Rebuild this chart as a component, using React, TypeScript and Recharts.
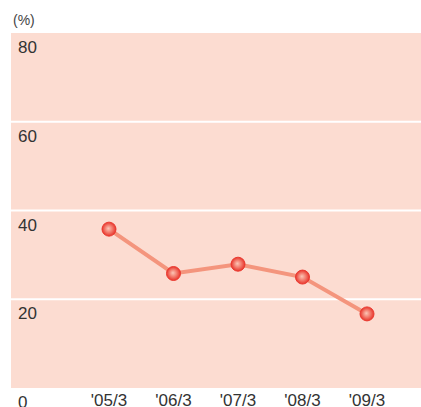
import { LineChart, Line, XAxis, YAxis, CartesianGrid } from 'recharts';

const periods = ["'05/3", "'06/3", "'07/3", "'08/3", "'09/3"];
const ratio = [35.8, 25.8, 27.9, 25.0, 16.7];
const yTicks = [0, 20, 40, 60, 80];

const data = periods.map((p, i) => ({ period: p, value: ratio[i] }));

const FONT = 'Arial, "Liberation Sans", Helvetica, sans-serif';
const TEXT = '#333333';

const renderYTick = (props: any) => {
  const { y, payload } = props;
  return (
    <text x={18} y={y + 20} fill={TEXT} fontSize={17} fontFamily={FONT} textAnchor="start">
      {payload.value}
    </text>
  );
};

const renderXTick = (props: any) => {
  const { x, payload } = props;
  return (
    <text x={x} y={406} fill={TEXT} fontSize={17} fontFamily={FONT} textAnchor="middle">
      {payload.value}
    </text>
  );
};

const renderDot = (props: any) => {
  const { cx, cy, index } = props;
  return <circle key={index} cx={cx} cy={cy} r={7} fill="url(#dotFill)" stroke="#ea3a30" strokeWidth={1} />;
};

export default function App() {
  return (
    <div style={{ position: 'absolute', left: 0, top: 0, width: 421, height: 407 }}>
      <div
        style={{
          position: 'absolute',
          left: 13,
          top: 12,
          fontSize: 14,
          fontFamily: FONT,
          color: '#444444',
        }}
      >
        (%)
      </div>
      <LineChart width={421} height={407} data={data} margin={{ top: 33, right: 0, left: 0, bottom: 0 }}>
        <defs>
          <radialGradient id="dotFill" cx="50%" cy="50%" r="50%" fx="45%" fy="45%">
            <stop offset="0%" stopColor="#fbc6b6" />
            <stop offset="55%" stopColor="#f2786a" />
            <stop offset="100%" stopColor="#e8352c" />
          </radialGradient>
        </defs>
        <CartesianGrid
          vertical={false}
          horizontalValues={[20, 40, 60]}
          stroke="#ffffff"
          strokeWidth={2}
          fill="#fcdcd1"
          fillOpacity={1}
        />
        <XAxis
          dataKey="period"
          axisLine={false}
          tickLine={false}
          padding={{ left: 98, right: 54 }}
          tick={renderXTick}
          interval={0}
          height={19}
        />
        <YAxis
          domain={[0, 80]}
          ticks={yTicks}
          axisLine={false}
          tickLine={false}
          tick={renderYTick}
          width={11}
          interval={0}
        />
        <Line
          type="linear"
          dataKey="value"
          stroke="#f4957d"
          strokeWidth={4}
          dot={renderDot}
          activeDot={false}
          isAnimationActive={false}
        />
      </LineChart>
    </div>
  );
}
